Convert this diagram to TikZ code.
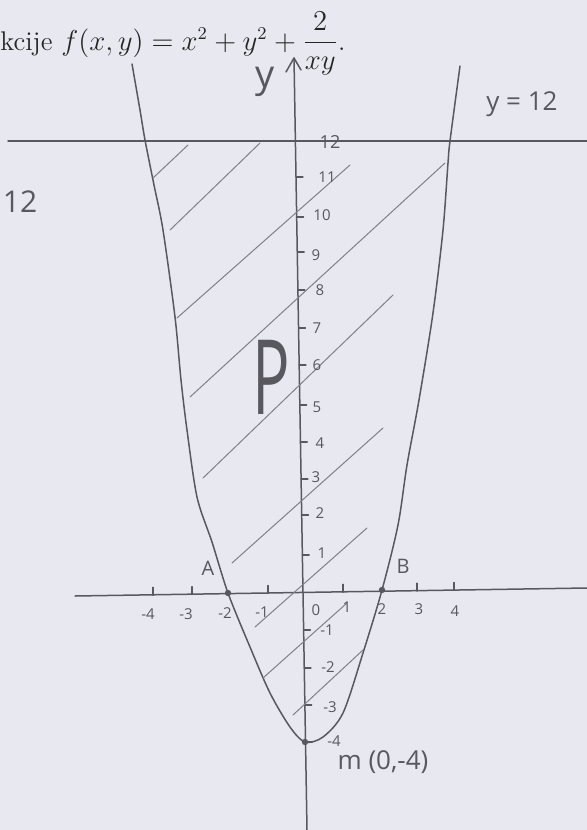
\documentclass[tikz,border=0pt]{standalone}
\usepackage{fontspec}
\newfontfamily\hand{Open Sans}
\definecolor{paper}{RGB}{232,232,240}
\definecolor{pencil}{RGB}{88,88,94}
\definecolor{hatchc}{RGB}{128,128,136}
\tikzset{
  pen/.style={draw=pencil, line width=0.75pt, line cap=round, line join=round},
  hatchline/.style={draw=hatchc, line width=0.5pt, line cap=round},
  ticklbl/.style={text=pencil, font=\hand\fontsize{7.5}{8}\selectfont, inner sep=0pt},
  hlabel/.style={text=pencil, inner sep=0pt},
  dotpt/.style={circle, fill=pencil, inner sep=0pt, minimum size=3.2pt}
}
\begin{document}
\begin{tikzpicture}[x=0.5pt,y=-0.5pt]
\fill[paper] (0,0) rectangle (587,830);
\useasboundingbox (0,0) rectangle (587,830);
% printed formula
\node[anchor=base west, inner sep=0pt, text=black!85] (formula) at (0,50)
  {\fontsize{13.5}{16}\selectfont kcije $f(x,y)=x^2+y^2+{\displaystyle\frac{2}{xy}}$.};
% y = 12 line
\coordinate (hl) at (8,141);
\coordinate (hr) at (587,141);
\draw[pen] (hl) -- (hr);
% x axis
\coordinate (xl) at (75,596);
\coordinate (xr) at (587,588);
\draw[pen] (xl) -- (xr);
% y axis
\coordinate (yt) at (294,58);
\coordinate (yb) at (307,830);
\draw[pen] (yb) -- (yt);
\draw[pen] (286,72) -- (yt) -- (301,70);
% parabola
\draw[pen] plot[smooth, tension=0.5] coordinates {
 (132,64) (140,110) (145,140) (154,185) (163,230) (175,317) (181,380) (187,430)
 (197,497) (212,542) (228,593) (250,647) (270,693) (290,727) (305,742)
 (323,737) (343,713) (363,653) (382,590) (398,525) (407,465) (419,400)
 (433,313) (443,230) (448,163) (450,141) (460,66)};
% x-axis ticks
\foreach \x/\y in {153/595.2,192/594.6,268/593.4,343/592.2,417/591.1,454/590.5}
  \draw[pen, line width=0.6pt] (\x,\y) -- (\x,\y-8);
% y-axis ticks
\foreach \y/\x in {177/296,217/296.6,252/297.2,290/297.8,328/298.5,365/299,405/299.7,442/300.3,479/300.9,515/301.5,555/302.2,630/303.4,668/304,705/304.7,742/305.3}
  \draw[pen, line width=0.6pt] (\x,\y) -- (\x+7,\y);
% hatching
\draw[hatchline] (153,178) -- (188,145);
\draw[hatchline] (170,230) -- (260,143);
\draw[hatchline] (177,318) -- (350,165);
\draw[hatchline] (190,397) -- (445,163);
\draw[hatchline] (203,478) -- (393,295);
\draw[hatchline] (232,563) -- (383,428);
\draw[hatchline] (255,627) -- (367,528);
\draw[hatchline] (263,678) -- (347,603);
\draw[hatchline] (293,715) -- (363,650);
% points
\node[dotpt] (A) at (228,593) {};
\node[dotpt] (B) at (382,590) {};
\node[dotpt] (M) at (305,742) {};
% y tick labels
\node[ticklbl] (l12) at (330,142) {\fontsize{9}{9}\selectfont 12};
\node[ticklbl] (l11) at (327,177) {11};
\node[ticklbl] (l10) at (322,215) {10};
\node[ticklbl] (l9) at (316,255) {9};
\node[ticklbl] (l8) at (320,290) {8};
\node[ticklbl] (l7) at (317,328) {7};
\node[ticklbl] (l6) at (317,365) {6};
\node[ticklbl] (l5) at (317,407) {5};
\node[ticklbl] (l4) at (320,443) {4};
\node[ticklbl] (l3) at (316,477) {3};
\node[ticklbl] (l2) at (320,513) {2};
\node[ticklbl] (l1) at (322,553) {1};
\node[ticklbl] (lm1) at (327,630) {-1};
\node[ticklbl] (lm2) at (328,667) {-2};
\node[ticklbl] (lm3) at (330,707) {-3};
\node[ticklbl] (lm4) at (334,741) {-4};
% x tick labels
\node[ticklbl] (xm4) at (148,614) {-4};
\node[ticklbl] (xm3) at (186,614) {-3};
\node[ticklbl] (xm2) at (225,613) {-2};
\node[ticklbl] (xm1) at (262,612) {-1};
\node[ticklbl] (x0) at (316,610) {0};
\node[ticklbl] (x1) at (347,607) {1};
\node[ticklbl] (x2) at (382,609) {2};
\node[ticklbl] (x3) at (419,609) {3};
\node[ticklbl] (x4) at (455,611) {4};
% handwritten labels
\node[hlabel, font=\hand\fontsize{10}{10}\selectfont] (lA) at (208,568) {A};
\node[hlabel, font=\hand\fontsize{10}{10}\selectfont] (lB) at (403,566) {B};
\node[hlabel, font=\hand\fontsize{19}{19}\selectfont] (ly) at (265,82) {y};
\node[hlabel, font=\hand\fontsize{13}{13}\selectfont] (leq) at (522,104) {y = 12};
\node[hlabel, font=\hand\fontsize{15}{15}\selectfont] (l12left) at (20,202) {12};
\node[hlabel, font=\hand\fontsize{52}{52}\selectfont, xscale=0.6] (lP) at (271,377) {P};
\node[hlabel, font=\hand\fontsize{13}{13}\selectfont] (lm) at (383,762) {m (0,-4)};
\end{tikzpicture}
\end{document}
